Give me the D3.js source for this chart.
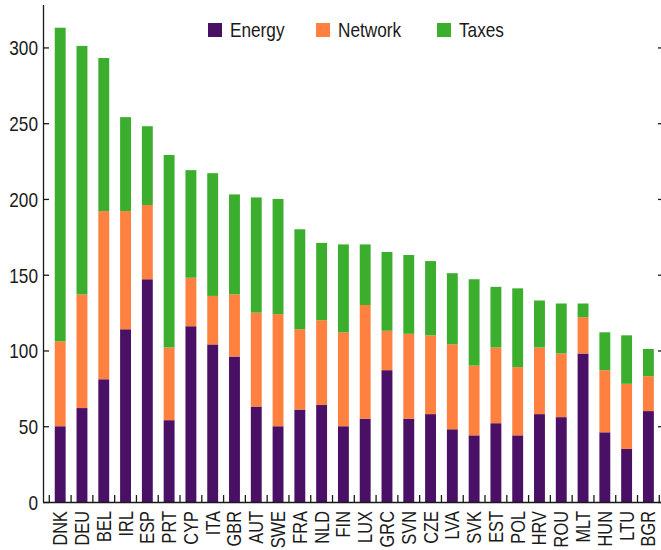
<!DOCTYPE html>
<html>
<head>
<meta charset="utf-8">
<script src="https://cdn.jsdelivr.net/npm/d3@7"></script>
<style>
  body { margin: 0; background: #fff; }
  svg text { font-family: "Liberation Sans", Arial, sans-serif; fill: #1a1a1a; }
</style>
</head>
<body>
<script>
// countries, sorted by total price
const countries = ["DNK","DEU","BEL","IRL","ESP","PRT","CYP","ITA","GBR","AUT","SWE","FRA","NLD","FIN",
                   "LUX","GRC","SVN","CZE","LVA","SVK","EST","POL","HRV","ROU","MLT","HUN","LTU","BGR"];
const energy  = [50,62,81,114,147,54,116,104,96,63,50,61,64,50,55,87,55,58,48,44,52,44,58,56,98,46,35,60];
const network = [56,75,111,78,49,48,32,32,41,62,74,53,56,62,75,26,56,52,56,46,50,45,44,42,24,41,43,23];
const taxes   = [207,164,101,62,52,127,71,81,66,76,76,66,51,58,40,52,52,49,47,57,40,52,31,33,9,25,32,18];
const series = ["Energy","Network","Taxes"];
const yTicks = [0,50,100,150,200,250,300];

const colors = ["#4a1066","#ff803f","#3bae2e"];
const narrow = 0.82; // squeeze Liberation Sans into a narrow face
const fs = 21;

const W = 661, H = 550;
const svg = d3.select("body").append("svg")
    .attr("width", W)
    .attr("height", H);

const rows = countries.map((c, i) => ({country: c, Energy: energy[i], Network: network[i], Taxes: taxes[i]}));

const x = d3.scaleBand()
    .domain(countries)
    .range([49.3, 659.3])
    .paddingInner(0.5)
    .paddingOuter(0.25);

const y = d3.scaleLinear()
    .domain([0, 328])
    .range([502, 5]);

const stacked = d3.stack().keys(series)(rows);

// bars
svg.append("g")
    .selectAll("g")
    .data(stacked)
    .join("g")
    .attr("fill", (d, i) => colors[i])
    .selectAll("rect")
    .data(d => d)
    .join("rect")
    .attr("x", d => x(d.data.country))
    .attr("width", x.bandwidth())
    .attr("y", d => y(d[1]))
    .attr("height", d => y(d[0]) - y(d[1]));

// left axis, ticks pointing inwards
const yAxis = svg.append("g")
    .attr("transform", "translate(43,0)")
    .call(d3.axisLeft(y).tickValues(yTicks).tickSizeInner(-6).tickSizeOuter(0).tickPadding(5));
yAxis.select(".domain").attr("stroke", "#1a1a1a").attr("stroke-width", 1.3)
    .attr("d", `M0.5,${y(328)}V${y(0)}`);
yAxis.selectAll(".tick line").attr("stroke", "#1a1a1a").attr("stroke-width", 1.3);
yAxis.selectAll("text")
    .attr("font-size", fs)
    .attr("x", -5 / narrow)
    .attr("dy", "0.35em")
    .attr("transform", `scale(${narrow},1)`)
    .attr("fill", "#1a1a1a");

// right ticks only
const yRight = svg.append("g")
    .attr("transform", "translate(661,0)")
    .call(d3.axisRight(y).tickValues(yTicks).tickSize(-3).tickFormat(""));
yRight.select(".domain").remove();
yRight.selectAll(".tick line").attr("stroke", "#1a1a1a").attr("stroke-width", 1.3);

// bottom axis line and ticks between bars
const step = x.step();
const edges = countries.map(c => x(c) - step * 0.25).concat([x(countries[countries.length - 1]) + x.bandwidth() + step * 0.25]);
const bottom = svg.append("g");
bottom.append("line")
    .attr("x1", 43).attr("x2", W)
    .attr("y1", y(0) + 0.5).attr("y2", y(0) + 0.5)
    .attr("stroke", "#1a1a1a").attr("stroke-width", 1.5);
bottom.selectAll(".xt")
    .data(edges)
    .join("line")
    .attr("class", "xt")
    .attr("x1", d => d).attr("x2", d => d)
    .attr("y1", y(0) - 7).attr("y2", y(0))
    .attr("stroke", "#1a1a1a").attr("stroke-width", 1.3);

// country labels, rotated
bottom.selectAll(".xl")
    .data(countries)
    .join("text")
    .attr("class", "xl")
    .attr("transform", d => `translate(${x(d) + x.bandwidth() / 2 + 7},511) rotate(-90) scale(${narrow},1)`)
    .attr("text-anchor", "end")
    .attr("font-size", 20)
    .text(d => d);

// legend
const legendX = [208, 316, 437];
const legend = svg.append("g")
    .selectAll("g")
    .data(series)
    .join("g")
    .attr("transform", (d, i) => `translate(${legendX[i]},23)`);
legend.append("rect")
    .attr("width", 14).attr("height", 14)
    .attr("fill", (d, i) => colors[i]);
legend.append("text")
    .attr("x", 22 / narrow).attr("y", 14)
    .attr("transform", `scale(${narrow},1)`)
    .attr("font-size", fs)
    .text(d => d);
</script>
</body>
</html>
